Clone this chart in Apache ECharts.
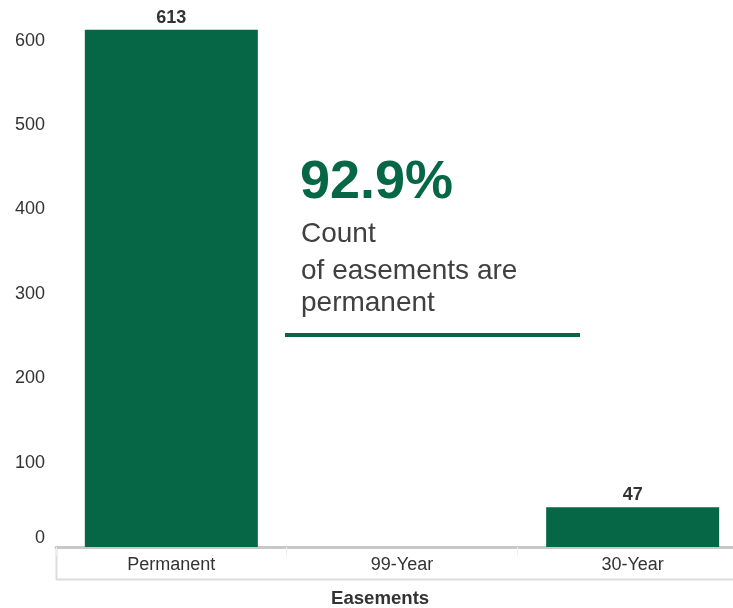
<!DOCTYPE html>
<html>
<head>
<meta charset="utf-8">
<script src="https://cdn.jsdelivr.net/npm/echarts@6/dist/echarts.min.js"></script>
<style>
html,body{margin:0;padding:0;background:#fff;overflow:hidden;width:733px;height:608px;}
#chart{width:748px;height:608px;}
</style>
</head>
<body>
<div id="chart"></div>
<script>
var categories = ['Permanent', '99-Year', '30-Year'];
var counts = [613, 0, 47];
var yTicks = [0, 100, 200, 300, 400, 500, 600];
var axisTitle = 'Easements';
var kpiValue = '92.9%';
var kpiLines = ['Count', 'of easements are', 'permanent'];

var GREEN = '#066747';
var FONT = '"Liberation Sans", Arial, sans-serif';

var chart = echarts.init(document.getElementById('chart'), null, {renderer: 'canvas'});

var gridLeft = 56, gridTop = 7, gridHeight = 540, gridWidth = 692;
var kpiLineTops = [220, 257.5, 289.5];

var graphics = [
  {type: 'text', left: 300, top: 156, style: {text: kpiValue, fill: GREEN, font: 'bold 54px ' + FONT}},
  {type: 'line', shape: {x1: 285, y1: 335, x2: 580, y2: 335}, style: {stroke: GREEN, lineWidth: 4}},
  {type: 'line', shape: {x1: 56.5, y1: 548, x2: 56.5, y2: 580}, style: {stroke: '#dcdcdc', lineWidth: 2}},
  {type: 'line', shape: {x1: 56, y1: 579.5, x2: 748, y2: 579.5}, style: {stroke: '#dcdcdc', lineWidth: 2}},
  {type: 'text', left: 331, top: 589, style: {text: axisTitle, fill: '#333', font: 'bold 18.6px ' + FONT}}
];
kpiLines.forEach(function (t, i) {
  graphics.push({type: 'text', left: 301, top: kpiLineTops[i], style: {text: t, fill: '#404040', font: '28px ' + FONT, lineHeight: 28}});
});

chart.setOption({
  animation: false,
  backgroundColor: '#fff',
  textStyle: {fontFamily: FONT},
  grid: {left: gridLeft, top: gridTop, width: gridWidth, height: gridHeight, containLabel: false},
  xAxis: {
    type: 'category',
    data: categories,
    offset: 1.5,
    axisLine: {show: true, lineStyle: {color: '#c8c8c8', width: 3}},
    axisTick: {show: true, length: 9, lineStyle: {color: '#eeeeee', width: 1}},
    axisLabel: {color: '#333', fontSize: 18, fontFamily: FONT, margin: 8},
    splitLine: {show: false}
  },
  yAxis: {
    type: 'value',
    min: yTicks[0],
    max: 640,
    interval: yTicks[1] - yTicks[0],
    axisLine: {show: false},
    axisTick: {show: false},
    splitLine: {show: false},
    axisLabel: {
      color: '#333', fontSize: 18, fontFamily: FONT, margin: 11,
      showMaxLabel: false,
      verticalAlignMinLabel: 'bottom',
      formatter: function (v) { return yTicks.indexOf(v) >= 0 ? String(v) : ''; }
    }
  },
  series: [{
    type: 'bar',
    data: counts,
    barWidth: '75%',
    itemStyle: {color: GREEN},
    label: {
      show: true, position: 'top', distance: 3,
      color: '#333', fontSize: 18, fontWeight: 'bold', fontFamily: FONT,
      formatter: function (p) { return p.value ? String(p.value) : ''; }
    }
  }],
  graphic: graphics
});
</script>
</body>
</html>
